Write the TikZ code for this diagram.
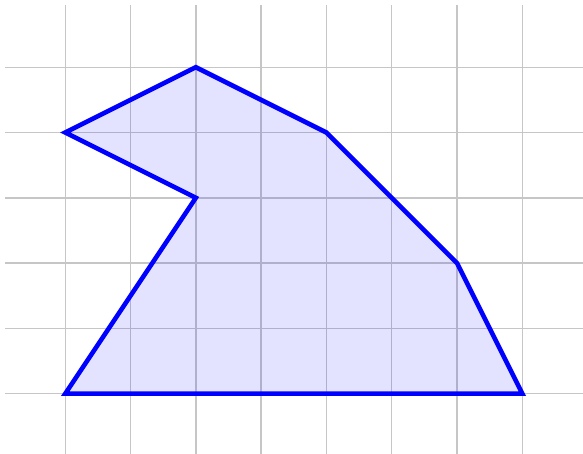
\documentclass[tikz,border=0pt]{standalone}
\usepackage{tikz}

\begin{document}
\begin{tikzpicture}[x=1cm,y=1cm,
   gridline/.style={draw=gray!45,line width=0.6pt},
   polyfig/.style={draw=blue,fill=blue,fill opacity=0.11,draw opacity=1,line width=2pt,line join=miter}]
  \useasboundingbox (-1,-0.92) rectangle (7.93,6.03);
  \draw[gridline,step=1] (-0.92,-0.92) grid (7.93,5.95);
  \coordinate (p1) at (0,0);
  \coordinate (p2) at (7,0);
  \coordinate (p3) at (6,2);
  \coordinate (p4) at (4,4);
  \coordinate (p5) at (2,5);
  \coordinate (p6) at (0,4);
  \coordinate (p7) at (2,3);
  \filldraw[polyfig] (p1) -- (p2) -- (p3) -- (p4) -- (p5) -- (p6) -- (p7) -- cycle;
\end{tikzpicture}
\end{document}
